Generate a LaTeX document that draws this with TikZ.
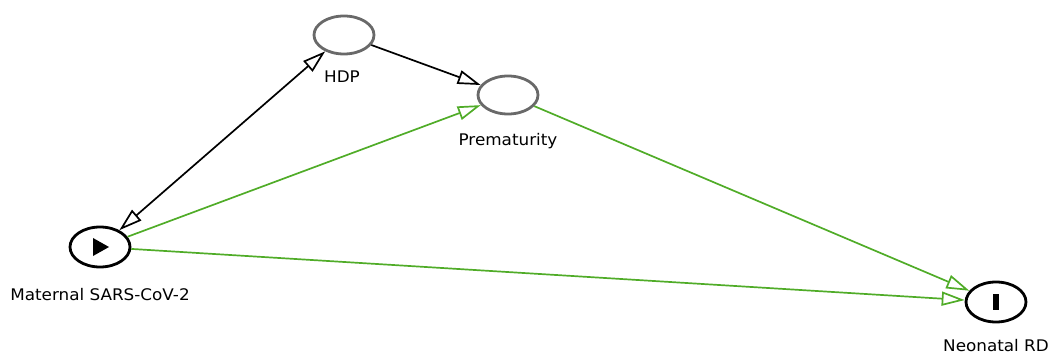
\documentclass[tikz,border=0pt]{standalone}
\usepackage{fontspec}
\setmainfont{DejaVu Sans}
\usetikzlibrary{shapes.geometric,arrows.meta,calc}
\definecolor{dgreen}{RGB}{80,172,40}
\definecolor{dgray}{RGB}{105,105,105}
\tikzset{
  x=1pt, y=-1pt,
  opentip/.tip={Triangle[open, length=23pt, width=14pt, fill=white]},
  var/.style={ellipse, draw=dgray, line width=2.8pt, minimum width=60pt, minimum height=38pt, inner sep=0pt},
  keyvar/.style={ellipse, draw=black, line width=2.8pt, minimum width=60pt, minimum height=40pt, inner sep=0pt},
  lbl/.style={font=\fontsize{16}{18}\selectfont, inner sep=0pt},
  causal/.style={draw=dgreen, line width=1.7pt, -{opentip}},
  plain/.style={draw=black, line width=1.7pt, -{opentip}},
}
\begin{document}
\begin{tikzpicture}
\useasboundingbox (0,0) rectangle (1052,358);
\node[var] (hdp) at (344,35) {};
\node[var] (pre) at (508,95) {};
\node[keyvar] (mat) at (100,247) {};
\node[keyvar] (neo) at (996,302) {};
\node[lbl, xscale=1.05] (hdpl) at (342,77) {HDP};
\node[lbl, xscale=1.05] (prel) at (508,141) {Prematurity};
\node[lbl, xscale=1.05] (matl) at (100,295) {Maternal SARS-CoV-2};
\node[lbl, xscale=1.05] (neol) at (996,346) {Neonatal RD};
\fill[black] ($(mat)+(-7,-9)$) -- ++(0,18) -- ++(16,-9) -- cycle;
\fill[black] ($(neo)+(-3,-8)$) rectangle ++(6,16);
\draw[plain, {opentip}-{opentip}] (mat) -- (hdp);
\draw[plain] (hdp) -- (pre);
\draw[causal] (mat) -- (pre);
\draw[causal] (mat) -- (neo);
\draw[causal] (pre) -- (neo);
\end{tikzpicture}
\end{document}
